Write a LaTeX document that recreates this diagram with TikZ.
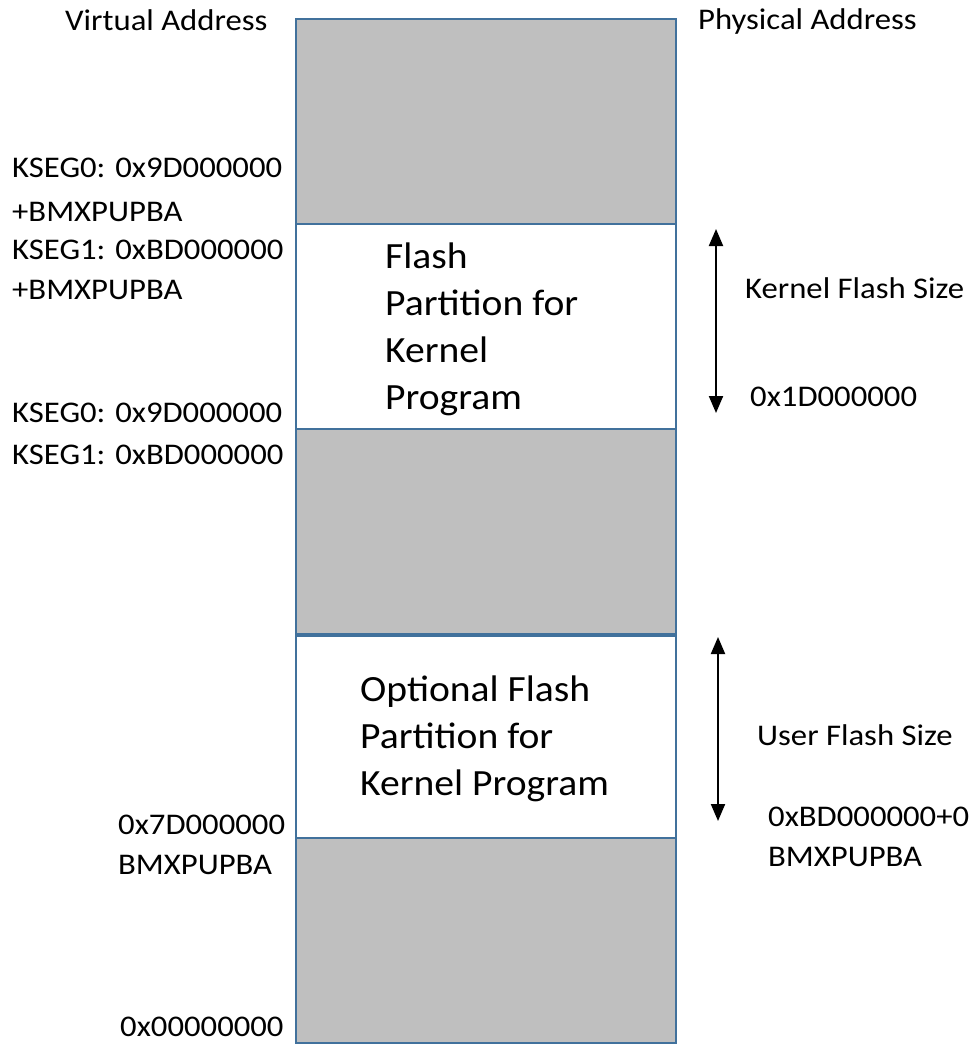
\documentclass[tikz,border=0pt]{standalone}
\usepackage{fontspec}
\setmainfont{Carlito}
\newfontfamily\wide[FakeStretch=1.09]{Carlito}
\newfontfamily\widebig[FakeStretch=1.07]{Carlito}
\usetikzlibrary{arrows.meta}
\definecolor{seg}{RGB}{191,191,191}
\definecolor{edge}{RGB}{65,113,156}
\begin{document}
\begin{tikzpicture}[x=1pt,y=-1pt,
  region/.style={draw=edge,line width=2pt,inner sep=0pt,minimum width=380pt,anchor=north west},
  used/.style={region,fill=seg},
  free/.style={region,fill=white},
  lbl/.style={font=\wide\fontsize{30}{36}\selectfont,inner sep=0pt,anchor=west},
  big/.style={font=\widebig\fontsize{37}{47}\selectfont,inner sep=0pt,align=left,anchor=west},
  dim/.style={line width=2pt,{Triangle[length=17pt,width=14pt]}-{Triangle[length=17pt,width=14pt]}}]
\useasboundingbox (0,0) rectangle (976,1044);
% memory regions
\node[used,minimum height=205pt] (r1) at (295,18) {};
\node[free,minimum height=205pt] (r2) at (295,223) {};
\node[used,minimum height=205pt] (r3) at (295,428) {};
\node[free,minimum height=202pt] (r4) at (295,635) {};
\node[used,minimum height=205pt] (r5) at (295,837) {};
% region texts
\node[big] (t2) at (385,329) {Flash\\Partition for\\Kernel\\Program};
\node[big] (t4) at (360,739) {Optional Flash\\Partition for\\Kernel Program};
% headers
\node[lbl] (va) at (65,20) {Virtual Address};
\node[lbl] (pa) at (698,22) {Physical Address};
% virtual address labels
\node[lbl] (v1) at (12,168) {KSEG0: 0x9D000000};
\node[lbl] (v2) at (12,212) {+BMXPUPBA};
\node[lbl] (v3) at (12,250) {KSEG1: 0xBD000000};
\node[lbl] (v4) at (12,290) {+BMXPUPBA};
\node[lbl] (v5) at (12,413) {KSEG0: 0x9D000000};
\node[lbl] (v6) at (12,455) {KSEG1: 0xBD000000};
\node[lbl] (v7) at (118,825) {0x7D000000};
\node[lbl] (v8) at (118,865) {BMXPUPBA};
\node[lbl] (v9) at (120,1027) {0x00000000};
% size arrows
\coordinate (k1) at (716,229);
\coordinate (k2) at (716,413);
\draw[dim] (k1) -- (k2);
\coordinate (u1) at (718,637);
\coordinate (u2) at (718,821);
\draw[dim] (u1) -- (u2);
% physical labels
\node[lbl] (p1) at (745,288) {Kernel Flash Size};
\node[lbl] (p2) at (750,397) {0x1D000000};
\node[lbl] (p3) at (757,735) {User Flash Size};
\node[lbl] (p4) at (768,817) {0xBD000000+0};
\node[lbl] (p5) at (768,857) {BMXPUPBA};
\end{tikzpicture}
\end{document}
